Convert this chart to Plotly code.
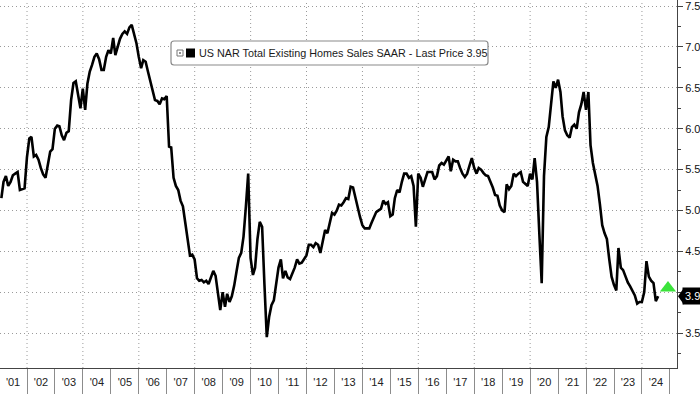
import plotly.graph_objects as go
import pandas as pd

# ---- data: US NAR Total Existing Home Sales SAAR (millions), monthly ----
v2001 = [5.15, 5.35, 5.42, 5.30, 5.35, 5.43, 5.45, 5.47, 5.25, 5.26, 5.27, 5.65]
v2002 = [5.88, 5.90, 5.66, 5.68, 5.62, 5.52, 5.44, 5.40, 5.58, 5.72, 5.75, 6.00]
v2003 = [6.04, 6.03, 5.92, 5.86, 5.95, 5.97, 6.35, 6.56, 6.58, 6.40, 6.25, 6.49]
v2004 = [6.23, 6.55, 6.70, 6.78, 6.88, 6.92, 6.85, 6.72, 6.72, 6.88, 6.96, 6.92]
v2005 = [7.11, 6.90, 7.00, 7.10, 7.16, 7.19, 7.16, 7.24, 7.27, 7.15, 7.05, 6.88]
v2006 = [6.74, 6.84, 6.82, 6.70, 6.58, 6.45, 6.35, 6.34, 6.30, 6.37, 6.36, 6.40]
v2007 = [5.78, 5.77, 5.40, 5.30, 5.25, 5.12, 5.05, 4.85, 4.62, 4.45, 4.46, 4.40]
v2008 = [4.17, 4.14, 4.15, 4.12, 4.14, 4.10, 4.18, 4.26, 4.20, 3.98, 3.78, 4.00]
v2009 = [3.82, 3.98, 3.88, 3.95, 4.08, 4.25, 4.42, 4.48, 4.68, 5.05, 5.45, 4.42]
v2010 = [4.21, 4.30, 4.65, 4.86, 4.80, 4.10, 3.45, 3.70, 3.84, 3.90, 4.08, 4.30]
v2011 = [4.40, 4.17, 4.26, 4.18, 4.16, 4.23, 4.30, 4.40, 4.35, 4.36, 4.40, 4.45]
v2012 = [4.58, 4.58, 4.55, 4.60, 4.58, 4.48, 4.62, 4.76, 4.72, 4.85, 4.97, 4.95]
v2013 = [5.00, 5.07, 5.06, 5.10, 5.15, 5.14, 5.29, 5.28, 5.15, 5.05, 4.92, 4.82]
v2014 = [4.78, 4.78, 4.78, 4.85, 4.92, 4.98, 5.00, 5.02, 5.12, 5.08, 5.10, 4.93]
v2015 = [4.95, 5.15, 5.25, 5.22, 5.35, 5.45, 5.45, 5.40, 5.42, 5.30, 4.80, 5.45]
v2016 = [5.40, 5.29, 5.38, 5.47, 5.47, 5.47, 5.38, 5.42, 5.55, 5.58, 5.56, 5.62]
v2017 = [5.66, 5.48, 5.62, 5.60, 5.60, 5.52, 5.45, 5.41, 5.45, 5.55, 5.64, 5.52]
v2018 = [5.45, 5.52, 5.50, 5.46, 5.43, 5.42, 5.36, 5.28, 5.19, 5.18, 5.06, 5.00]
v2019 = [4.98, 5.32, 5.26, 5.30, 5.45, 5.42, 5.45, 5.47, 5.35, 5.32, 5.30, 5.45]
v2020 = [5.38, 5.64, 5.35, 4.72, 4.11, 5.42, 5.90, 6.02, 6.30, 6.58, 6.50, 6.60]
v2021 = [6.45, 6.15, 5.98, 5.92, 5.89, 6.02, 6.05, 6.00, 6.20, 6.30, 6.45, 6.23]
v2022 = [6.45, 5.80, 5.58, 5.42, 5.30, 5.08, 4.82, 4.72, 4.65, 4.40, 4.19, 4.09]
v2023 = [4.02, 4.54, 4.30, 4.27, 4.18, 4.12, 4.07, 4.02, 3.96, 3.86, 3.88, 3.88]
v2024 = [4.00, 4.38, 4.19, 4.14, 4.11, 3.89, 3.95]

values = (v2001 + v2002 + v2003 + v2004 + v2005 + v2006 + v2007 + v2008 +
          v2009 + v2010 + v2011 + v2012 + v2013 + v2014 + v2015 + v2016 +
          v2017 + v2018 + v2019 + v2020 + v2021 + v2022 + v2023 + v2024)
start = pd.Timestamp(2001, 1, 1)
dates = [start + pd.DateOffset(months=i) + pd.offsets.MonthEnd(0) for i in range(len(values))]

last_price = values[-1]
series_name = "US NAR Total Existing Homes Sales SAAR - Last Price"
y_ticks = [3.5, 4.0, 4.5, 5.0, 5.5, 6.0, 6.5, 7.0, 7.5]
y_ticktext = ["3.5", "", "4.5", "5.0", "5.5", "6.0", "6.5", "7.0", "7.5"]
grid_years = list(range(2002, 2025, 2))

# ---- layout geometry ----
W, H = 700, 394
ML, MR, MT, MB = 0, 23, 0, 26
PW, PH = W - ML - MR, H - MT - MB
X_RANGE = ["2001-01-13", "2025-04-03"]
Y_RANGE = [3.072, 7.575]
FONT = "Liberation Sans, Arial, sans-serif"
GRID = "#9a9a9a"
DOT = "1px,3px"

fig = go.Figure()

fig.add_trace(go.Scatter(x=dates, y=values, mode="lines",
                         line=dict(color="black", width=2.6),
                         name=series_name, showlegend=False))

# last price marker (green triangle)
fig.add_trace(go.Scatter(x=["2024-12-06"], y=[last_price + 0.1], mode="markers",
                         marker=dict(symbol="triangle-up", size=14, color="#3be33b",
                                     line=dict(width=0)),
                         hoverinfo="skip", showlegend=False, cliponaxis=False))

fig.update_layout(
    width=W, height=H,
    margin=dict(l=ML, r=MR, t=MT, b=MB, pad=0),
    paper_bgcolor="white", plot_bgcolor="white",
    font=dict(family=FONT, size=11, color="#111"),
    showlegend=False,
    xaxis=dict(
        type="date", range=X_RANGE, automargin=False,
        tick0="2001-01-01", dtick="M12", ticklabelmode="period",
        tickformat="'%y", ticks="outside", ticklen=26, tickwidth=1,
        ticklabelstandoff=-22,
        tickcolor="#8c8c8c", showgrid=False, zeroline=False,
        showline=True, linecolor="#444", linewidth=1,
        tickfont=dict(size=11, color="#222"),
    ),
    yaxis=dict(
        side="right", range=Y_RANGE, automargin=False,
        tickvals=y_ticks, ticktext=y_ticktext, ticklabeloverflow="allow",
        ticks="outside", ticklen=5, tickcolor="#444",
        minor=dict(dtick=0.25, tick0=3.0, ticks="outside", ticklen=3,
                   tickcolor="#444", showgrid=False),
        showgrid=True, gridcolor=GRID, griddash=DOT, gridwidth=1,
        zeroline=False, showline=True, linecolor="#444", linewidth=1,
        tickfont=dict(size=11, color="#111"),
    ),
)

# vertical dotted gridlines every two years
for yr in grid_years:
    fig.add_shape(type="line", xref="x", yref="paper", x0=f"{yr}-01-01", x1=f"{yr}-01-01",
                  y0=0, y1=1, layer="below", line=dict(color=GRID, width=1, dash=DOT))

# ---- legend box (rounded rectangle) ----
def px_x(p):
    return (p - ML) / PW

def px_y(p):
    return 1 - (p - MT) / PH

x0, x1, y0, y1, r = 171, 488, 41, 65, 3
path = (f"M {px_x(x0 + r)},{px_y(y0)} L {px_x(x1 - r)},{px_y(y0)} "
        f"Q {px_x(x1)},{px_y(y0)} {px_x(x1)},{px_y(y0 + r)} "
        f"L {px_x(x1)},{px_y(y1 - r)} Q {px_x(x1)},{px_y(y1)} {px_x(x1 - r)},{px_y(y1)} "
        f"L {px_x(x0 + r)},{px_y(y1)} Q {px_x(x0)},{px_y(y1)} {px_x(x0)},{px_y(y1 - r)} "
        f"L {px_x(x0)},{px_y(y0 + r)} Q {px_x(x0)},{px_y(y0)} {px_x(x0 + r)},{px_y(y0)} Z")
fig.add_shape(type="path", path=path, xref="paper", yref="paper",
              line=dict(color="#8a8a8a", width=1.2), fillcolor="white", layer="above")
fig.add_shape(type="rect", xref="paper", yref="paper",
              x0=px_x(177), x1=px_x(183), y0=px_y(50), y1=px_y(56),
              line=dict(color="#777", width=1), fillcolor="white", layer="above")
fig.add_shape(type="rect", xref="paper", yref="paper",
              x0=px_x(179.5), x1=px_x(180.5), y0=px_y(52.5), y1=px_y(53.5),
              line=dict(color="#777", width=1), fillcolor="#777", layer="above")
fig.add_shape(type="rect", xref="paper", yref="paper",
              x0=px_x(186), x1=px_x(195), y0=px_y(48.5), y1=px_y(57.5),
              line=dict(color="black", width=0), fillcolor="black", layer="above")
fig.add_annotation(xref="paper", yref="paper", x=px_x(197), y=px_y(53),
                   xanchor="left", yanchor="middle", showarrow=False,
                   text=f"{series_name} {last_price:.2f}",
                   font=dict(family=FONT, size=10.8, color="#1a1a1a"))

# ---- last price tag on the right axis ----
fig.add_annotation(xref="paper", yref="y", x=1, y=last_price, xanchor="left",
                   yanchor="middle", xshift=5, showarrow=False,
                   text=f"{last_price:.2f}", bgcolor="black", borderpad=2,
                   font=dict(family=FONT, size=11, color="white"))
fig.add_shape(type="path", xref="paper", yref="y", layer="above",
              path=(f"M {px_x(ML + PW + 1)},{last_price} "
                    f"L {px_x(ML + PW + 7)},{last_price + 0.105} "
                    f"L {px_x(ML + PW + 7)},{last_price - 0.105} Z"),
              line=dict(width=0), fillcolor="black")

fig.write_html("out.html", config={"displayModeBar": False},
               post_script="document.body.style.margin='0';document.body.style.overflow='hidden';")
